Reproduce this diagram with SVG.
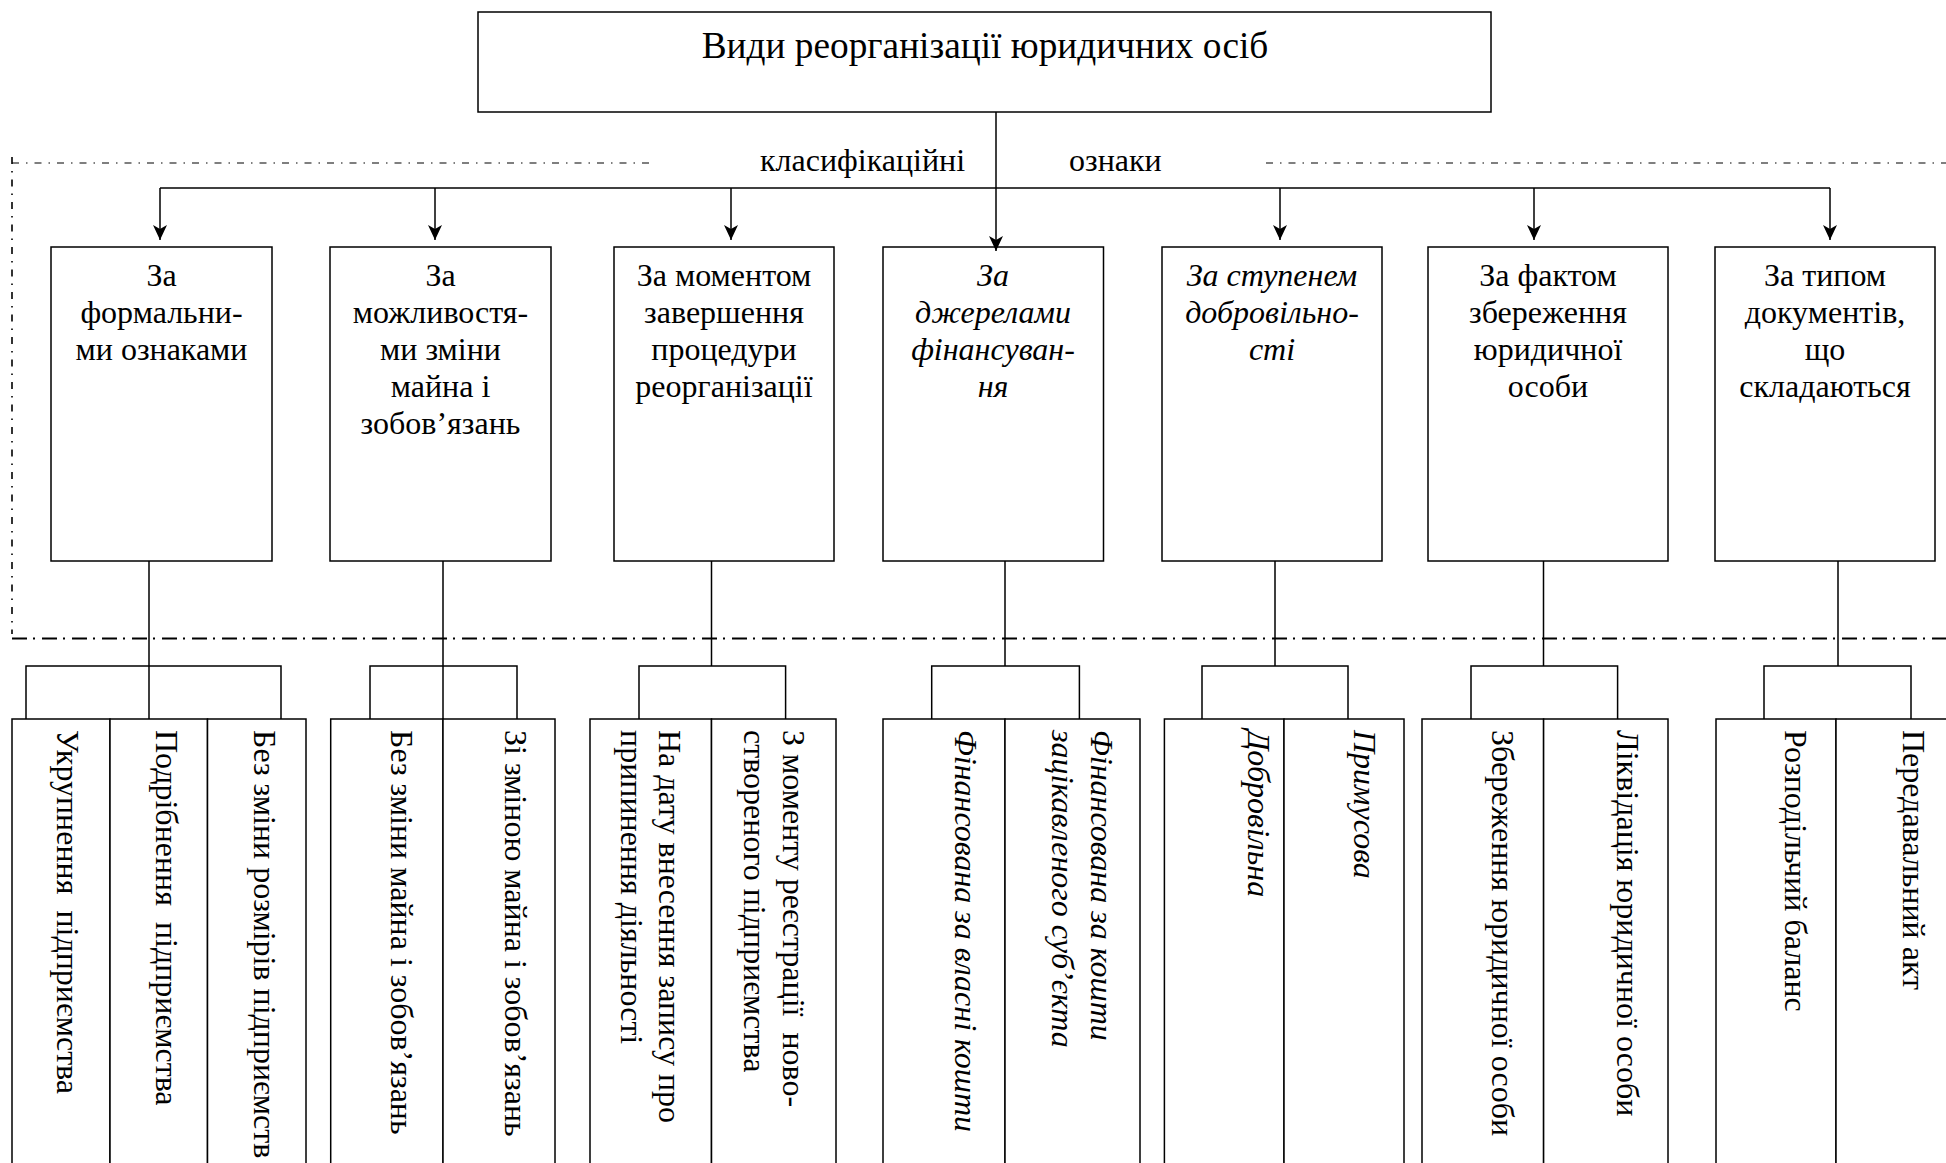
<svg xmlns="http://www.w3.org/2000/svg" width="1946" height="1163" viewBox="0 0 1946 1163">
  <style>
    .box{fill:#fff;stroke:#000;stroke-width:1.5}
    .ln{fill:none;stroke:#000;stroke-width:1.5}
    .t{font-family:"Liberation Serif","Times New Roman",serif;font-size:32px;fill:#000;white-space:pre}
    .c{text-anchor:middle}
    .i{font-style:italic}
    .dd1{fill:none;stroke:#000;stroke-width:1.2;stroke-dasharray:7 7 1.5 7}
    .dd2{fill:none;stroke:#000;stroke-width:2;stroke-dasharray:15 6 2 7}
  </style>
  <defs>
    <marker id="arr" viewBox="0 0 15 14" refX="15" refY="7" markerWidth="15" markerHeight="14" markerUnits="userSpaceOnUse" orient="auto">
      <path d="M0,0 L15,7 L0,14 L4,7 Z" fill="#000"/>
    </marker>
  </defs>
  <rect width="1946" height="1163" fill="#fff"/>

  <!-- dash-dot frame around the classification level -->
  <g id="frame">
    <path class="dd1" d="M12,163 H656"/>
    <path class="dd1" d="M1266,163 H1946"/>
    <path class="dd1" d="M12,157 V634" style="stroke-width:1.6"/>
    <path class="dd2" d="M12,638.5 H1946"/>
    <text class="t" x="760" y="171">класифікаційні</text>
    <text class="t" x="1069" y="171">ознаки</text>
  </g>

  <!-- root -->
  <g id="root">
    <rect class="box" x="478" y="12" width="1013" height="100"/>
    <text class="t c" x="985" y="58" style="font-size:37.3px">Види реорганізації юридичних осіб</text>
  </g>

  <!-- classification criteria -->
  <g id="n1">
    <rect class="box" x="51" y="247" width="221" height="314"/>
    <text class="t c" x="161.5" y="286">За<tspan x="161.5" dy="37">формальни-</tspan><tspan x="161.5" dy="37">ми ознаками</tspan></text>
  </g>
  <g id="n2">
    <rect class="box" x="330" y="247" width="221" height="314"/>
    <text class="t c" x="440.5" y="286">За<tspan x="440.5" dy="37">можливостя-</tspan><tspan x="440.5" dy="37">ми зміни</tspan><tspan x="440.5" dy="37">майна і</tspan><tspan x="440.5" dy="37">зобов’язань</tspan></text>
  </g>
  <g id="n3">
    <rect class="box" x="614" y="247" width="220" height="314"/>
    <text class="t c" x="724" y="286">За моментом<tspan x="724" dy="37">завершення</tspan><tspan x="724" dy="37">процедури</tspan><tspan x="724" dy="37">реорганізації</tspan></text>
  </g>
  <g id="n4">
    <rect class="box" x="883" y="247" width="220.5" height="314"/>
    <text class="t c i" x="993" y="286">За<tspan x="993" dy="37">джерелами</tspan><tspan x="993" dy="37">фінансуван-</tspan><tspan x="993" dy="37">ня</tspan></text>
  </g>
  <g id="n5">
    <rect class="box" x="1162" y="247" width="220" height="314"/>
    <text class="t c i" x="1272" y="286">За ступенем<tspan x="1272" dy="37">добровільно-</tspan><tspan x="1272" dy="37">сті</tspan></text>
  </g>
  <g id="n6">
    <rect class="box" x="1428" y="247" width="240" height="314"/>
    <text class="t c" x="1548" y="286">За фактом<tspan x="1548" dy="37">збереження</tspan><tspan x="1548" dy="37">юридичної</tspan><tspan x="1548" dy="37">особи</tspan></text>
  </g>
  <g id="n7">
    <rect class="box" x="1715" y="247" width="220" height="314"/>
    <text class="t c" x="1825" y="286">За типом<tspan x="1825" dy="37">документів,</tspan><tspan x="1825" dy="37">що</tspan><tspan x="1825" dy="37">складаються</tspan></text>
  </g>

  <!-- connectors -->
  <g id="connectors" class="ln">
    <path d="M160,188 H1830"/>
    <path d="M996,112 V251" marker-end="url(#arr)"/>
    <path d="M160,188 V240" marker-end="url(#arr)"/>
    <path d="M435,188 V240" marker-end="url(#arr)"/>
    <path d="M731,188 V240" marker-end="url(#arr)"/>
    <path d="M1280,188 V240" marker-end="url(#arr)"/>
    <path d="M1534,188 V240" marker-end="url(#arr)"/>
    <path d="M1830,188 V240" marker-end="url(#arr)"/>

    <path d="M149,561 V719 M26,719 V666 H281 V719"/>
    <path d="M443,561 V719 M370,719 V666 H517 V719"/>
    <path d="M711.5,561 V666 M639,719 V666 H785.6 V719"/>
    <path d="M1005,561 V666 M931.7,719 V666 H1079.4 V719"/>
    <path d="M1275,561 V666 M1202,719 V666 H1348 V719"/>
    <path d="M1543.5,561 V666 M1471,719 V666 H1617.6 V719"/>
    <path d="M1838,561 V666 M1764,719 V666 H1911 V719"/>
  </g>

  <!-- reorganisation types (vertical labels) -->
  <g id="l1a"><rect class="box" x="12" y="719" width="98" height="460"/>
    <text class="t" transform="translate(57,730) rotate(90)">Укрупнення  підприємства</text></g>
  <g id="l1b"><rect class="box" x="110" y="719" width="97.5" height="460"/>
    <text class="t" transform="translate(156,730) rotate(90)">Подрібнення  підприємства</text></g>
  <g id="l1c"><rect class="box" x="207.5" y="719" width="98.5" height="460"/>
    <text class="t" transform="translate(254,730) rotate(90)">Без зміни розмірів підприємств</text></g>

  <g id="l2a"><rect class="box" x="330.7" y="719" width="112.3" height="460"/>
    <text class="t" transform="translate(391,730) rotate(90)">Без зміни майна і зобов’язань</text></g>
  <g id="l2b"><rect class="box" x="443" y="719" width="112" height="460"/>
    <text class="t" transform="translate(505,730) rotate(90)">Зі зміною майна і зобов’язань</text></g>

  <g id="l3a"><rect class="box" x="590" y="719" width="121.5" height="460"/>
    <text class="t" transform="translate(659,730) rotate(90)">На дату внесення запису про<tspan x="0" dy="38">припинення діяльності</tspan></text></g>
  <g id="l3b"><rect class="box" x="711.5" y="719" width="124.5" height="460"/>
    <text class="t" transform="translate(783,730) rotate(90)">З моменту реєстрації  ново-<tspan x="0" dy="39">створеного підприємства</tspan></text></g>

  <g id="l4a"><rect class="box" x="883" y="719" width="122" height="460"/>
    <text class="t i" transform="translate(955,730) rotate(90)">Фінансована за власні кошти</text></g>
  <g id="l4b"><rect class="box" x="1005" y="719" width="135" height="460"/>
    <text class="t i" transform="translate(1091,730) rotate(90)">Фінансована за кошти<tspan x="0" dy="39">зацікавленого суб’єкта</tspan></text></g>

  <g id="l5a"><rect class="box" x="1164.4" y="719" width="119.6" height="460"/>
    <text class="t i" transform="translate(1248,730) rotate(90)">Добровільна</text></g>
  <g id="l5b"><rect class="box" x="1284" y="719" width="120" height="460"/>
    <text class="t i" transform="translate(1354,730) rotate(90)">Примусова</text></g>

  <g id="l6a"><rect class="box" x="1422" y="719" width="121.6" height="460"/>
    <text class="t" transform="translate(1492,730) rotate(90)">Збереження юридичної особи</text></g>
  <g id="l6b"><rect class="box" x="1543.6" y="719" width="124.4" height="460"/>
    <text class="t" transform="translate(1617,730) rotate(90)">Ліквідація юридичної особи</text></g>

  <g id="l7a"><rect class="box" x="1716" y="719" width="120" height="460"/>
    <text class="t" transform="translate(1785,730) rotate(90)">Розподільчий баланс</text></g>
  <g id="l7b"><rect class="box" x="1836" y="719" width="130" height="460"/>
    <text class="t" transform="translate(1903,730) rotate(90)">Передавальний акт</text></g>
</svg>
